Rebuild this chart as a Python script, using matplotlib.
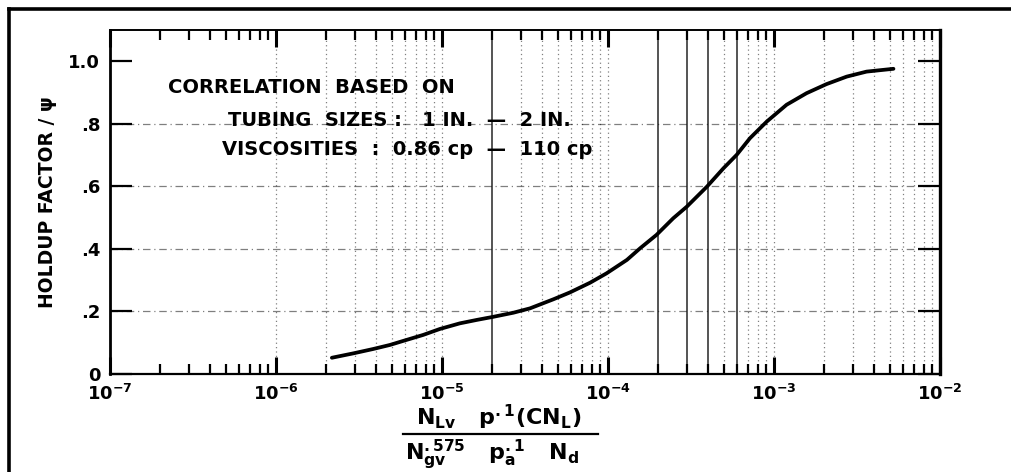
import matplotlib.pyplot as plt
from matplotlib.lines import Line2D
import numpy as np

plt.rcParams['font.family'] = ['DejaVu Sans']
plt.rcParams['font.weight'] = 'bold'
plt.rcParams['mathtext.fontset'] = 'dejavusans'

# holdup factor correlation curve
group = [2.17e-6, 2.92e-6, 3.85e-6, 4.86e-6, 5.85e-6, 7.7e-6, 9.7e-6, 1.28e-5,
         1.62e-5, 2.04e-5, 2.69e-5, 3.39e-5, 4.69e-5, 5.9e-5, 7.8e-5, 9.8e-5,
         1.30e-4, 1.56e-4, 1.96e-4, 2.47e-4, 2.98e-4, 3.94e-4, 4.96e-4, 5.96e-4,
         7.16e-4, 9.03e-4, 1.19e-3, 1.57e-3, 2.07e-3, 2.74e-3, 3.61e-3, 5.24e-3]
holdup = [0.052, 0.066, 0.080, 0.093, 0.106, 0.125, 0.144, 0.162,
          0.173, 0.183, 0.196, 0.210, 0.239, 0.261, 0.292, 0.322,
          0.365, 0.402, 0.445, 0.498, 0.535, 0.599, 0.658, 0.701,
          0.754, 0.807, 0.861, 0.898, 0.927, 0.951, 0.967, 0.976]

x_major = [1e-7, 1e-6, 1e-5, 1e-4, 1e-3, 1e-2]
x_labels = [r'10$^{-7}$', r'10$^{-6}$', r'10$^{-5}$', r'10$^{-4}$', r'10$^{-3}$', r'10$^{-2}$']
y_major = [0, 0.2, 0.4, 0.6, 0.8, 1.0]
y_labels = ['0', '.2', '.4', '.6', '.8', '1.0']

# chart paper rulings
solid_rules = [2e-5, 2e-4, 3e-4, 4e-4, 6e-4]
dotted_rules = [m * 10.0 ** e for e in range(-6, -2) for m in range(1, 10)]
dotted_rules = [v for v in dotted_rules if not any(np.isclose(v, s) for s in solid_rules)]
h_rules = [0.2, 0.4, 0.6, 0.8]

fig = plt.figure(figsize=(10.12, 4.72), dpi=100)
ax = fig.add_axes([0.1087, 0.2076, 0.8202, 0.7288])

for v in dotted_rules:
    ax.axvline(v, color='black', lw=0.9, ls=(0, (1, 2.5)), alpha=0.5, zorder=1)
for v in solid_rules:
    ax.axvline(v, color='black', lw=1.1, alpha=0.85, zorder=1)
for h in h_rules:
    ax.axhline(h, color='black', lw=0.9, ls=(0, (6, 3, 1, 3)), alpha=0.5, zorder=1)

ax.plot(group, holdup, color='black', lw=2.7, solid_capstyle='round',
        solid_joinstyle='round', zorder=3)

ax.set_xscale('log')
ax.set_xlim(1e-7, 1e-2)
ax.set_ylim(0, 1.1)

ax.set_xticks(x_major)
ax.set_xticklabels(x_labels)
ax.set_xticks([m * 10.0 ** e for e in range(-7, -2) for m in range(2, 10)], minor=True)
ax.set_yticks(y_major)
ax.set_yticklabels(y_labels)

ax.tick_params(axis='x', which='major', direction='in', length=12, width=2.2,
               top=True, labelsize=13, pad=7)
ax.tick_params(axis='x', which='minor', direction='in', length=7, width=1.6, top=True)
ax.tick_params(axis='y', which='major', direction='in', length=16, width=1.6,
               right=True, labelsize=13, pad=7)
ax.tick_params(axis='y', which='minor', left=False, right=False)

ax.spines['left'].set_linewidth(2.0)
ax.spines['bottom'].set_linewidth(1.6)
ax.spines['right'].set_linewidth(2.4)
ax.spines['top'].set_linewidth(1.4)

ax.set_ylabel('HOLDUP FACTOR / ψ', fontsize=13.5, fontweight='bold')
ax.yaxis.set_label_coords(-0.064, 0.5)

ax.text(0.07, 0.832, 'CORRELATION  BASED  ON', transform=ax.transAxes,
        fontsize=14, va='center', ha='left')
ax.text(0.142, 0.737, 'TUBING  SIZES :   1 IN.  —  2 IN.', transform=ax.transAxes,
        fontsize=14, va='center', ha='left')
ax.text(0.135, 0.654, 'VISCOSITIES  :  0.86 cp  —  110 cp', transform=ax.transAxes,
        fontsize=14, va='center', ha='left')

# dimensionless group written as a fraction below the axis
fig.text(0.493, 0.099,
         r'$\mathbf{N}_{\mathbf{Lv}}\quad\mathbf{p}^{\mathbf{.1}}\mathbf{(CN}_{\mathbf{L}}\mathbf{)}$',
         fontsize=16, ha='center', va='baseline')
fig.add_artist(Line2D([0.398, 0.591], [0.0805, 0.0805], transform=fig.transFigure,
                      color='black', lw=1.6))
fig.text(0.40, 0.026,
         r'$\mathbf{N}_{\mathbf{gv}}^{\mathit{.575}}\quad\mathbf{p}_{\mathbf{a}}^{\mathbf{.1}}\quad\mathbf{N}_{\mathbf{d}}$',
         fontsize=16, ha='left', va='baseline')

# page border
fig.add_artist(Line2D([0.0085, 0.0085], [0.0, 0.981], transform=fig.transFigure,
                      color='black', lw=2.6))
fig.add_artist(Line2D([0.0085, 1.0], [0.981, 0.981], transform=fig.transFigure,
                      color='black', lw=2.6))

fig.savefig('out.png', dpi=100)
